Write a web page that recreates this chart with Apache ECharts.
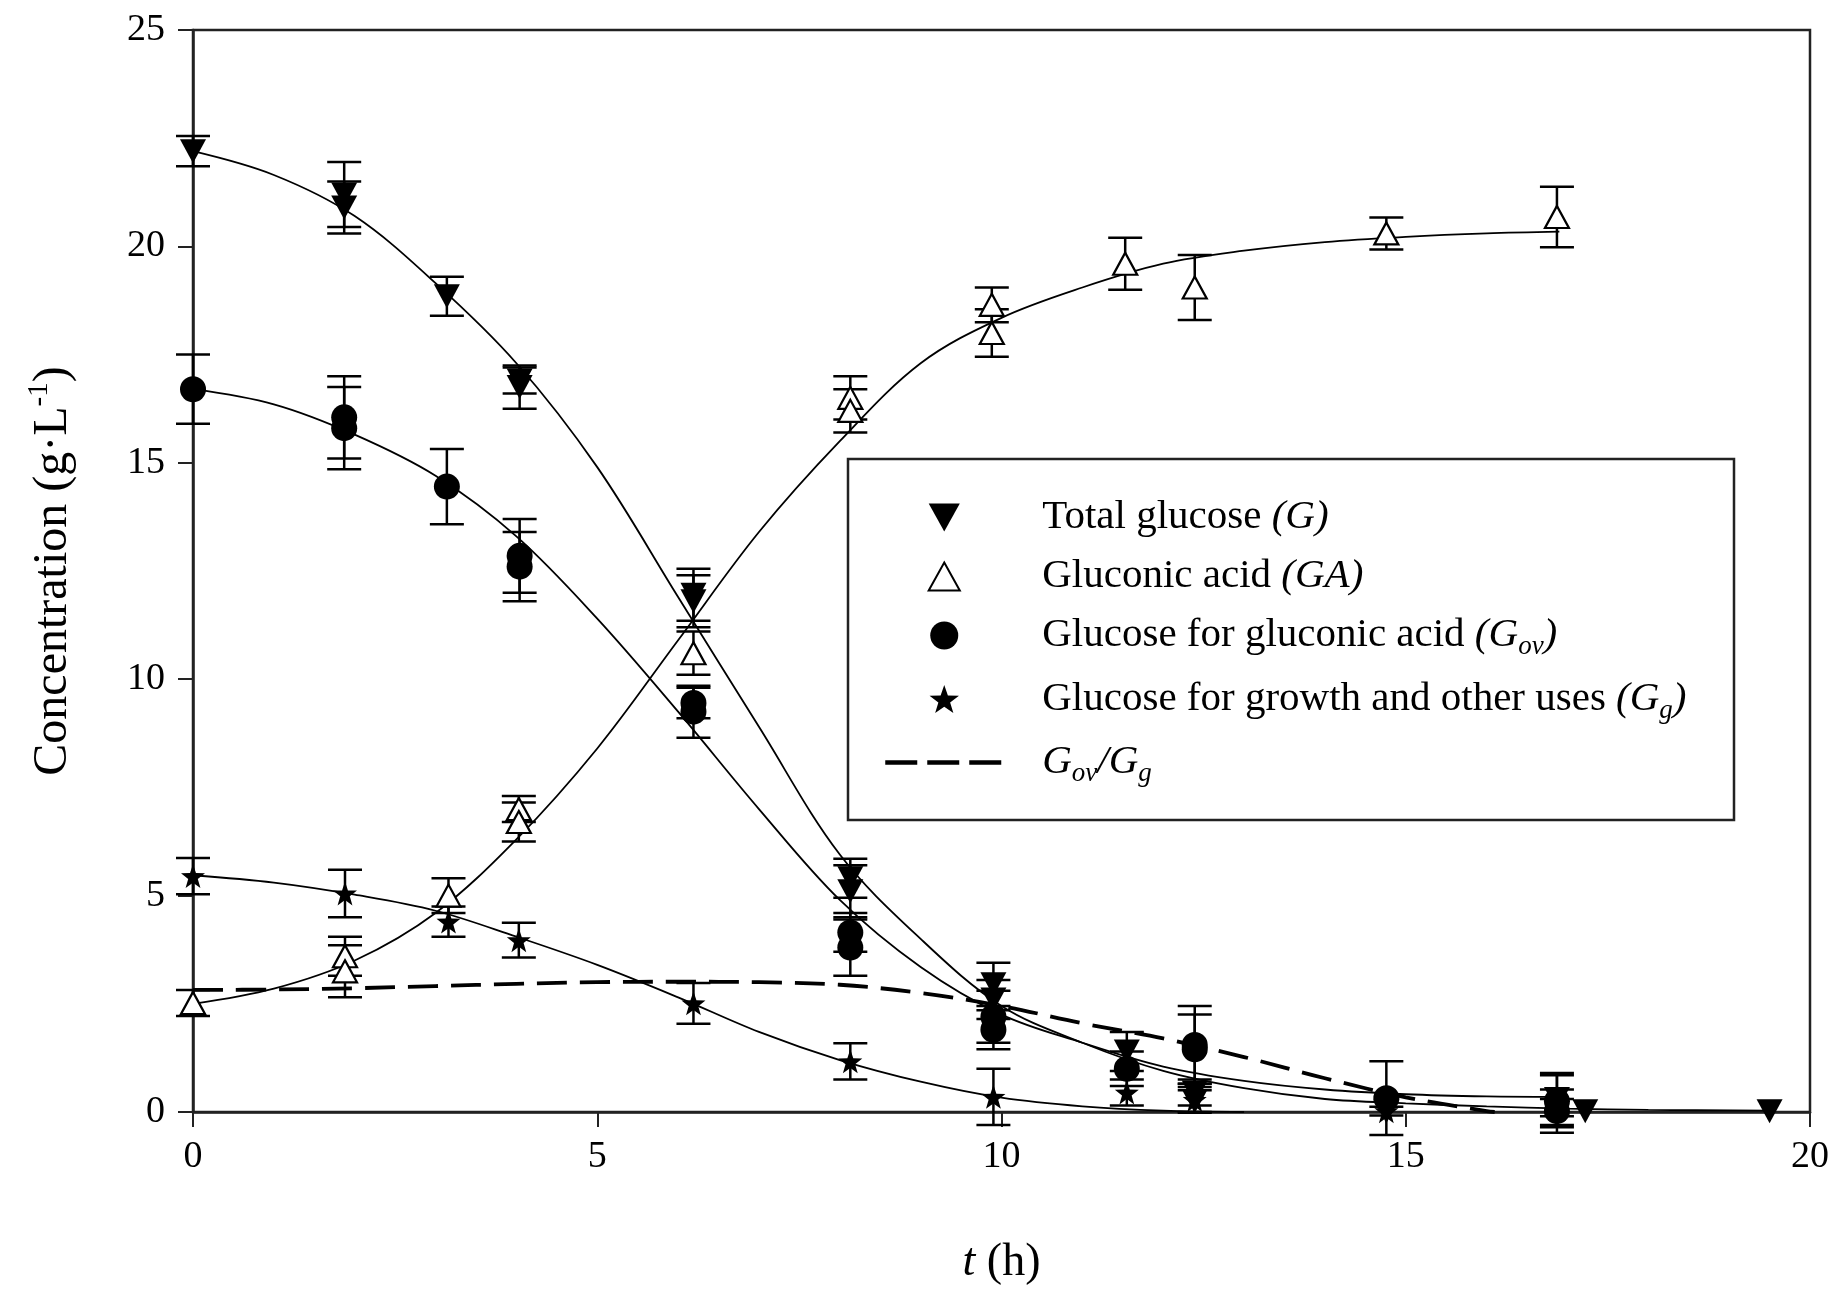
<!DOCTYPE html>
<html>
<head>
<meta charset="utf-8">
<title>Glucose / gluconic acid</title>
<script src="https://cdn.jsdelivr.net/npm/echarts@6.0.0/dist/echarts.min.js"></script>
<style>
    html, body { margin: 0; padding: 0; background: #fff; }
    #main { width: 1837px; height: 1293px; }
</style>
</head>
<body>
<div id="main"></div>
<script>
    // measured points: [t (h), concentration, error]
    var ptsG = [
        [0, 22.2, 0.35], [1.87, 21.2, 0.75], [1.87, 20.9, 0.6], [3.14, 18.85, 0.45],
        [4.04, 16.9, 0.3], [4.04, 16.75, 0.5], [6.19, 11.95, 0.6], [6.19, 11.8, 0.6],
        [8.13, 5.4, 0.45], [8.13, 5.1, 0.6], [9.9, 2.95, 0.5], [9.9, 2.6, 0.45],
        [11.55, 1.4, 0.45], [12.39, 0.45, 0.3], [12.39, 0.25, 0.25], [14.76, 0.02, 0.1],
        [16.87, 0.3, 0.6], [17.22, 0.02, 0], [19.5, 0.02, 0]
    ];
    var ptsGA = [
        [0, 2.52, 0.3], [1.88, 3.6, 0.45], [1.88, 3.25, 0.6], [3.16, 5.0, 0.4],
        [4.03, 7.0, 0.3], [4.03, 6.7, 0.45], [6.19, 10.6, 0.5], [8.13, 16.5, 0.5],
        [8.13, 16.2, 0.5], [9.88, 18.65, 0.4], [9.88, 18.0, 0.55], [11.53, 19.6, 0.6],
        [12.39, 19.05, 0.75], [14.76, 20.3, 0.37], [16.87, 20.68, 0.7]
    ];
    var ptsGov = [
        [0, 16.7, 0.8], [1.87, 16.05, 0.95], [1.87, 15.8, 0.95], [3.14, 14.45, 0.87],
        [4.04, 12.85, 0.85], [4.04, 12.6, 0.8], [6.19, 9.45, 0.35], [6.19, 9.25, 0.6],
        [8.13, 4.15, 0.45], [8.13, 3.8, 0.65], [9.9, 2.2, 0.6], [9.9, 1.9, 0.45],
        [11.55, 1.0, 0.4], [12.39, 1.55, 0.9], [12.39, 1.45, 0.8], [14.76, 0.32, 0.85],
        [16.87, 0.25, 0.6], [16.87, 0.02, 0.5]
    ];
    var ptsGg = [
        [0, 5.45, 0.42], [1.88, 5.05, 0.55], [3.16, 4.4, 0.35], [4.03, 3.97, 0.4],
        [6.19, 2.51, 0.47], [8.13, 1.17, 0.42], [9.9, 0.35, 0.65], [11.55, 0.45, 0.3],
        [12.39, 0.28, 0.3], [14.76, 0.02, 0], [16.87, 0.1, 0.2]
    ];

    // fitted curves: [t, value]
    var fitG = [
        [0, 22.2], [1, 21.65], [2, 20.7], [3, 19.15], [4, 17.3], [5, 14.9], [6, 11.9],
        [7, 8.9], [8, 5.95], [9, 4.0], [10, 2.45], [11, 1.6], [12, 0.95], [13, 0.55],
        [14, 0.3], [15, 0.2], [16, 0.13], [17, 0.08], [18, 0.05], [19.5, 0.03]
    ];
    var fitGov = [
        [0, 16.7], [1, 16.35], [2, 15.65], [3, 14.7], [4, 13.3], [5, 11.4], [6, 9.25],
        [7, 7.0], [8, 4.9], [9, 3.35], [10, 2.25], [11, 1.6], [12, 1.05], [13, 0.72],
        [14, 0.52], [15, 0.41], [16, 0.36], [16.87, 0.35]
    ];
    var fitGA = [
        [0, 2.5], [1, 2.85], [2, 3.5], [3, 4.6], [4, 6.3], [5, 8.4], [6, 10.9], [7, 13.4],
        [8, 15.5], [9, 17.3], [10, 18.35], [11, 19.05], [12, 19.6], [13, 19.9], [14, 20.1],
        [15, 20.22], [16, 20.3], [16.9, 20.34]
    ];
    var fitGg = [
        [0, 5.47], [1, 5.3], [2, 5.02], [3, 4.65], [4, 4.05], [5, 3.4], [6, 2.65],
        [7, 1.85], [8, 1.2], [9, 0.7], [10, 0.33], [11, 0.13], [12, 0.03], [13, 0]
    ];
    var ratioGovGg = [
        [0, 2.82], [1, 2.83], [2, 2.86], [3, 2.91], [4, 2.96], [5, 3.0], [6, 3.01],
        [7, 3.0], [8, 2.94], [9, 2.75], [10, 2.45], [11, 2.05], [12, 1.7], [13, 1.27],
        [14, 0.78], [15, 0.34], [16, 0.02], [16.1, 0]
    ];

    var xTicks = [0, 5, 10, 15, 20];
    var yTicks = [0, 5, 10, 15, 20, 25];

    var FONT = '"Liberation Serif", "Times New Roman", serif';
    var starPath = 'path://M0,-10L2.35,-3.24L9.51,-3.09L3.8,1.24L5.88,8.09L0,4L-5.88,8.09L-3.8,1.24L-9.51,-3.09L-2.35,-3.24Z';
    var downTri = 'path://M0,0L10,0L5,9Z';
    var upTri = 'path://M5,0L10,9L0,9Z';

    function errorBar(params, api) {
        var x = api.value(0), y = api.value(1), e = api.value(2);
        if (!e) return null;
        var hi = api.coord([x, y + e]);
        var lo = api.coord([x, y - e]);
        var w = 17;
        var st = { stroke: '#000', lineWidth: 2.5 };
        return {
            type: 'group',
            children: [
                { type: 'line', shape: { x1: hi[0], y1: hi[1], x2: lo[0], y2: lo[1] }, style: st },
                { type: 'line', shape: { x1: hi[0] - w, y1: hi[1], x2: hi[0] + w, y2: hi[1] }, style: st },
                { type: 'line', shape: { x1: lo[0] - w, y1: lo[1], x2: lo[0] + w, y2: lo[1] }, style: st }
            ]
        };
    }

    function errSeries(data) {
        return {
            type: 'custom', renderItem: errorBar, data: data, z: 2,
            encode: { x: 0, y: 1 }, silent: true
        };
    }

    function fitSeries(data, extra) {
        var s = {
            type: 'line', data: data, smooth: 0.35, symbol: 'none', z: 3,
            lineStyle: { color: '#000', width: 1.8 }, silent: true
        };
        for (var k in extra) s[k] = extra[k];
        return s;
    }

    var names = {
        G: 'Total glucose (G)',
        GA: 'Gluconic acid (GA)',
        Gov: 'Glucose for gluconic acid (Gov)',
        Gg: 'Glucose for growth and other uses (Gg)',
        R: 'Gov/Gg'
    };
    var legendText = {};
    legendText[names.G] = '{n|Total glucose }{i|(G)}';
    legendText[names.GA] = '{n|Gluconic acid }{i|(GA)}';
    legendText[names.Gov] = '{n|Glucose for gluconic acid }{i|(G}{s|ov}{i|)}';
    legendText[names.Gg] = '{n|Glucose for growth and other uses }{i|(G}{s|g}{i|)}';
    legendText[names.R] = '{i|G}{s|ov}{i|/G}{s|g}';

    var myChart = echarts.init(document.getElementById('main'));
    var option = {
        animation: false,
        backgroundColor: '#fff',
        grid: {
            left: 193, top: 30, width: 1617, height: 1082,
            show: true, borderColor: '#222', borderWidth: 2.5, backgroundColor: 'transparent'
        },
        xAxis: {
            type: 'value', min: 0, max: 20, interval: 5,
            name: '{i|t} (h)', nameLocation: 'middle', nameGap: 128,
            nameTextStyle: {
                fontFamily: FONT, fontSize: 46, color: '#000',
                rich: { i: { fontFamily: FONT, fontSize: 46, fontStyle: 'italic', color: '#000' } }
            },
            axisLine: { lineStyle: { color: '#222', width: 2.5 } },
            axisTick: { show: true, inside: false, length: 15, lineStyle: { color: '#222', width: 2 } },
            axisLabel: {
                margin: 26, fontFamily: FONT, fontSize: 38, color: '#000',
                formatter: function (v) { return xTicks.indexOf(v) >= 0 ? String(v) : ''; }
            },
            splitLine: { show: false }
        },
        yAxis: {
            type: 'value', min: 0, max: 25, interval: 5,
            name: '{a|Concentration (g·L}{s|-1}{a|)}', nameLocation: 'middle', nameGap: 112, nameRotate: 90,
            nameTextStyle: {
                fontFamily: FONT, fontSize: 48, color: '#000',
                rich: {
                    a: { fontFamily: FONT, fontSize: 48, color: '#000', lineHeight: 56 },
                    s: { fontFamily: FONT, fontSize: 29, color: '#000', lineHeight: 56, verticalAlign: 'top', padding: [0, 0, 18, 0] }
                }
            },
            axisLine: { lineStyle: { color: '#222', width: 2.5 } },
            axisTick: { show: true, inside: false, length: 15, lineStyle: { color: '#222', width: 2 } },
            axisLabel: {
                margin: 28, fontFamily: FONT, fontSize: 38, color: '#000',
                formatter: function (v) { return yTicks.indexOf(v) >= 0 ? String(v) : ''; }
            },
            splitLine: { show: false }
        },
        legend: {
            orient: 'vertical', left: 878, top: 492,
            itemWidth: 118, itemHeight: 28, itemGap: 18,
            data: [
                { name: names.G, icon: downTri },
                { name: names.GA, icon: upTri },
                { name: names.Gov, icon: 'circle' },
                { name: names.Gg, icon: starPath },
                { name: names.R, itemStyle: { opacity: 0 }, lineStyle: { color: '#000', width: 4.5, type: [32, 10] } }
            ],
            formatter: function (name) { return legendText[name]; },
            textStyle: {
                fontFamily: FONT, fontSize: 41, color: '#000', padding: [0, 0, 0, 34],
                rich: {
                    n: { fontFamily: FONT, fontSize: 41, color: '#000', lineHeight: 50 },
                    i: { fontFamily: FONT, fontSize: 41, fontStyle: 'italic', color: '#000', lineHeight: 50 },
                    s: { fontFamily: FONT, fontSize: 27, fontStyle: 'italic', color: '#000', lineHeight: 26, verticalAlign: 'bottom' }
                }
            },
            selectedMode: false
        },
        graphic: [{
            type: 'rect', shape: { x: 848, y: 459, width: 886, height: 361 },
            style: { fill: 'transparent', stroke: '#222', lineWidth: 2.5 }, z: 1, silent: true
        }],
        series: [
            errSeries(ptsGA), errSeries(ptsG), errSeries(ptsGov), errSeries(ptsGg),
            fitSeries(fitG, {}),
            fitSeries(fitGov, {}),
            fitSeries(fitGA, {}),
            fitSeries(fitGg, {}),
            fitSeries(ratioGovGg, {
                name: names.R,
                lineStyle: { color: '#000', width: 3.8, type: [30, 13] }
            }),
            {
                name: names.GA, type: 'scatter', data: ptsGA, z: 4,
                symbol: 'triangle', symbolSize: [24, 22],
                itemStyle: { color: '#fff', borderColor: '#000', borderWidth: 2.2, opacity: 1 }
            },
            {
                name: names.G, type: 'scatter', data: ptsG, z: 5,
                symbol: 'triangle', symbolRotate: 180, symbolSize: [26, 24],
                itemStyle: { color: '#000', opacity: 1 }
            },
            {
                name: names.Gov, type: 'scatter', data: ptsGov, z: 5,
                symbol: 'circle', symbolSize: 26,
                itemStyle: { color: '#000', opacity: 1 }
            },
            {
                name: names.Gg, type: 'scatter', data: ptsGg, z: 5,
                symbol: starPath, symbolSize: 24,
                itemStyle: { color: '#000', opacity: 1 }
            }
        ]
    };
    myChart.setOption(option, true);
</script>
</body>
</html>
